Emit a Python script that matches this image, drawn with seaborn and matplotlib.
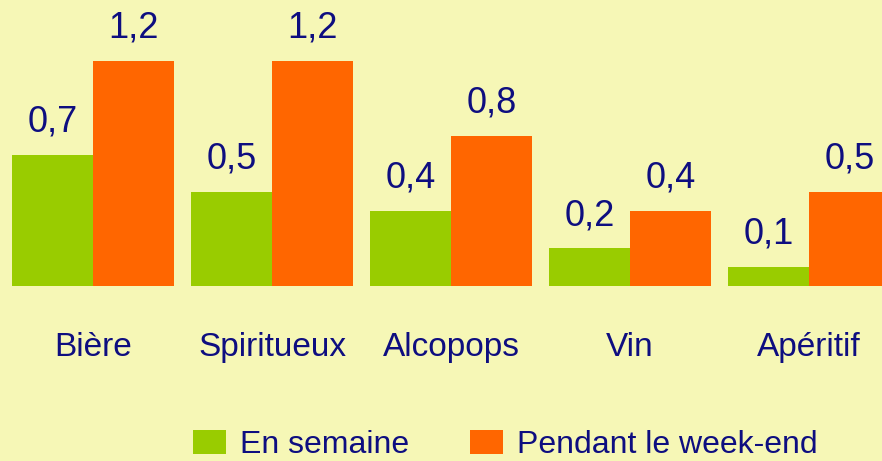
import pandas as pd
import matplotlib.pyplot as plt
import seaborn as sns

# data
categories = ["Bière", "Spiritueux", "Alcopops", "Vin", "Apéritif"]
semaine = [0.7, 0.5, 0.4, 0.2, 0.1]
weekend = [1.2, 1.2, 0.8, 0.4, 0.5]
series = ["En semaine", "Pendant le week-end"]

df = pd.DataFrame({
    "boisson": categories * 2,
    "valeur": semaine + weekend,
    "periode": [series[0]] * len(categories) + [series[1]] * len(categories),
})

bg = "#F6F7B6"
navy = "#0E0E80"
colors = ["#99CC00", "#FF6600"]

sns.set_style("white")
plt.rcParams["font.family"] = ["Liberation Sans", "DejaVu Sans"]

fig = plt.figure(figsize=(8.82, 4.61), dpi=100, facecolor=bg)
ax = fig.add_axes([0, 175 / 461, 1, 286 / 461])
ax.set_facecolor(bg)

sns.barplot(data=df, x="boisson", y="valeur", hue="periode", palette=colors,
            width=0.905, gap=0, saturation=1, linewidth=0, ax=ax)

# value labels with a french decimal comma
for cont in ax.containers:
    ax.bar_label(cont, labels=[f"{v:.1f}".replace(".", ",") for v in cont.datavalues],
                 padding=11, fontsize=26, color=navy)

ax.set_xlim(-0.52, 4.407)
ax.set_ylim(0, 1.525)
ax.set_xlabel("")
ax.set_ylabel("")
ax.set_yticks([])
ax.tick_params(axis="x", length=0, pad=33, labelsize=24, labelcolor=navy)
for s in ax.spines.values():
    s.set_visible(False)

handles, labels = ax.get_legend_handles_labels()
ax.get_legend().remove()
fig.legend(handles, labels, loc="lower left", bbox_to_anchor=(193 / 882, 0.002),
           bbox_transform=fig.transFigure, ncol=2, frameon=False,
           fontsize=23, labelcolor=navy, handlelength=1.03, handleheight=0.78,
           handletextpad=0.44, columnspacing=1.9, borderaxespad=0, borderpad=0)

fig.savefig("out.png", dpi=100, facecolor=bg)
